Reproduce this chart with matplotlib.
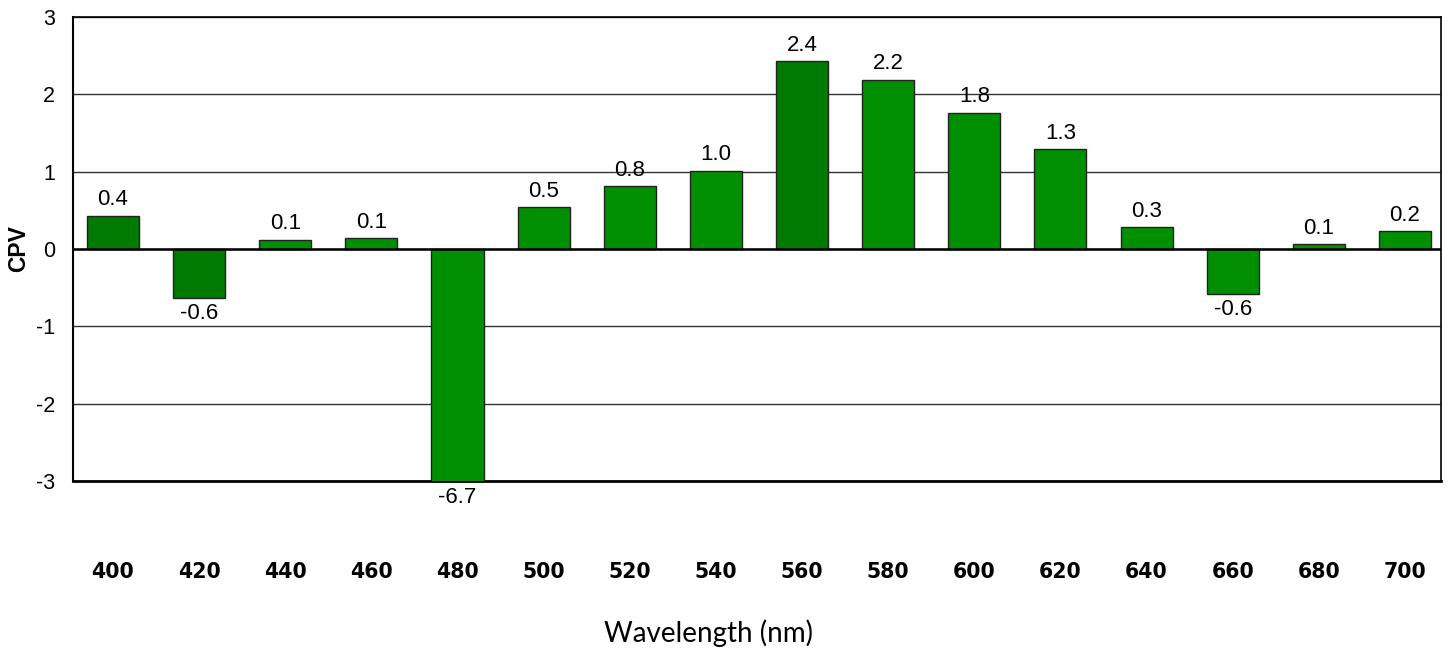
import matplotlib.pyplot as plt
from matplotlib.ticker import FuncFormatter

# data
wavelengths = ['400', '420', '440', '460', '480', '500', '520', '540',
               '560', '580', '600', '620', '640', '660', '680', '700']
cpv = [0.43, -0.63, 0.12, 0.14, -6.7, 0.54, 0.81, 1.01,
       2.43, 2.19, 1.76, 1.29, 0.28, -0.58, 0.06, 0.23]
dark_bars = ['400', '420', '560']

DARK = '#007a00'
BRIGHT = '#008f00'
YMIN, YMAX = -3, 3

fig = plt.figure(figsize=(14.52, 6.52), dpi=100)
fig.patch.set_facecolor('white')
ax = fig.add_axes([73/1452, 1 - 481/652, (1441 - 73)/1452, (481 - 17)/652])

colors = [DARK if w in dark_bars else BRIGHT for w in wavelengths]
x = range(len(wavelengths))
ax.bar(x, cpv, width=0.604, color=colors, edgecolor='#222222', linewidth=1, zorder=3)

ax.set_xlim(-0.464, len(wavelengths) - 1 + 0.418)
ax.set_ylim(YMIN, YMAX)

# horizontal gridlines
ax.set_yticks(range(YMIN, YMAX + 1))
ax.yaxis.set_major_formatter(FuncFormatter(lambda v, p: f'{v:.0f}'))
ax.yaxis.grid(True, color='#333333', linewidth=1, zorder=1)
ax.axhline(0, color='black', linewidth=1.8, zorder=4)

# value labels
for i, v in enumerate(cpv):
    shown = max(min(v, YMAX), YMIN)
    off = 4 if v >= 0 else -4
    ax.annotate(f'{v:.1f}', (i, shown), xytext=(0, off), textcoords='offset points',
                ha='center', va='bottom' if v >= 0 else 'top',
                fontsize=16, family='Liberation Sans', zorder=5)

ax.set_xticks(list(x))
ax.set_xticklabels(wavelengths, fontsize=14.8, fontweight='bold', family='DejaVu Sans')
ax.tick_params(axis='x', length=0, pad=58)
ax.tick_params(axis='y', length=0, pad=13)
for lab in ax.get_yticklabels():
    lab.set_fontsize(15.5)
    lab.set_family('Liberation Sans')

ax.set_ylabel('CPV', fontsize=16.5, fontweight='bold', family='Liberation Sans',
              va='center')
ax.yaxis.set_label_coords(-0.040, 0.5)
fig.text(709/1452, 1 - 633/652, 'Wavelength (nm)', ha='center', va='center',
         fontsize=20, family='Lato')

for name, sp in ax.spines.items():
    sp.set_color('black')
    sp.set_linewidth(1.2)
ax.spines['bottom'].set_linewidth(2)
ax.spines['left'].set_linewidth(1.5)

fig.savefig('out.png', dpi=100)
